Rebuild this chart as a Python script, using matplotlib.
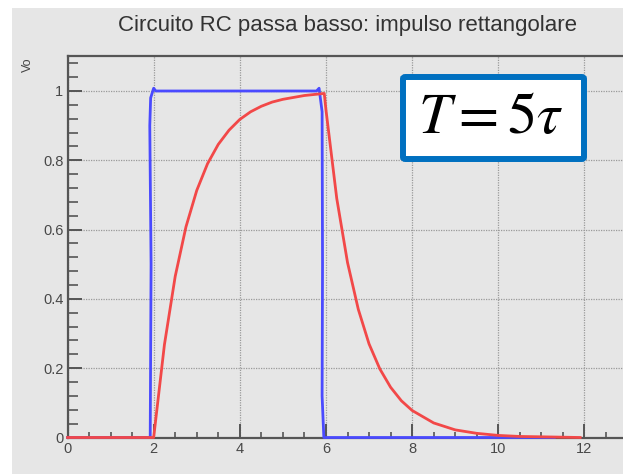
import matplotlib.pyplot as plt
from matplotlib.patches import Rectangle, FancyBboxPatch
from matplotlib.ticker import MultipleLocator

# values
blue_t = [0, 1.92, 1.94, 1.91, 1.93, 2.0, 2.05, 5.78, 5.84, 5.91, 5.92, 5.91, 5.95, 6.1, 11.3]
blue_v = [0, 0, 0.5, 0.9, 0.98, 1.008, 1.0, 1.0, 1.008, 0.94, 0.5, 0.12, 0, 0, 0]

red_t = [0, 2.0, 2.25, 2.5, 2.75, 3.0, 3.25, 3.5, 3.75, 4.0, 4.25, 4.5, 4.75, 5.0, 5.5, 5.96,
         6.0, 6.25, 6.5, 6.75, 7.0, 7.25, 7.5, 7.75, 8.0, 8.5, 9.0, 9.5, 10.0, 10.5, 11.0, 11.9]
red_v = [0, 0, 0.268, 0.465, 0.608, 0.713, 0.79, 0.846, 0.887, 0.918, 0.94, 0.956, 0.968, 0.976, 0.987, 0.993,
         0.945, 0.69, 0.505, 0.37, 0.27, 0.198, 0.145, 0.106, 0.078, 0.042, 0.022, 0.012, 0.006, 0.003, 0.002, 0]

x_ticks = [0, 2, 4, 6, 8, 10, 12]
y_ticks = [0, 0.2, 0.4, 0.6, 0.8, 1.0]
y_ticklabels = ['0', '0.2', '0.4', '0.6', '0.8', '1']

title = "Circuito RC passa basso: impulso rettangolare"
ylabel = "Vo"
box_text = r"$T=5\tau$"

plt.rcParams['font.family'] = ['Liberation Sans', 'DejaVu Sans']
plt.rcParams['mathtext.fontset'] = 'stix'

fig = plt.figure(figsize=(6.23, 4.74), dpi=100)
fig.patch.set_facecolor('white')
fig.patches.append(Rectangle((12 / 623, 0), 1, 1 - 8 / 474, transform=fig.transFigure,
                             facecolor='#e6e6e6', edgecolor='none', zorder=-10))

ax = fig.add_axes([67.5 / 623, 36.5 / 474, 14 * 43.08 / 623, 1.1 * 346.5 / 474])
ax.set_facecolor('none')
ax.set_xlim(0, 14)
ax.set_ylim(0, 1.1)

ax.plot(blue_t, blue_v, color='#4a4aff', lw=2.0, zorder=5, clip_on=False)
ax.plot(red_t, red_v, color='#f24848', lw=2.0, zorder=6, clip_on=False)

ax.set_xticks(x_ticks)
ax.xaxis.set_minor_locator(MultipleLocator(0.5))
ax.set_yticks(y_ticks)
ax.set_yticklabels(y_ticklabels)
ax.yaxis.set_minor_locator(MultipleLocator(0.04))
ax.tick_params(which='both', direction='in', colors='#555555', top=False, right=False)
ax.tick_params(which='major', length=10, width=1.4, labelsize=10.5, pad=3, labelcolor='#484848')
ax.tick_params(axis='y', which='minor', length=7, width=1.2)
ax.tick_params(axis='x', which='minor', length=4, width=1.2)
ax.grid(True, which='major', color='#9a9a9a', ls=(0, (1, 1)), lw=0.9)

for s in ['left', 'bottom', 'top']:
    ax.spines[s].set_color('#555555')
    ax.spines[s].set_linewidth(1.6)
ax.spines['right'].set_visible(False)

fig.text(348 / 623, 1 - 25 / 474, title, ha='center', va='center', fontsize=16, color='#333333')
fig.text(28 / 623, 1 - 65 / 474, ylabel, ha='center', va='center', rotation=90, fontsize=9, color='#444444')

box = FancyBboxPatch((403 / 623, 1 - 159 / 474), 181 / 623, 82 / 474, transform=fig.transFigure,
                     boxstyle='round,pad=0,rounding_size=0.004', facecolor='white',
                     edgecolor='#0070c0', linewidth=4.3, zorder=10)
fig.patches.append(box)
fig.text(491 / 623, 1 - 118 / 474, box_text, ha='center', va='center', fontsize=42, color='black', zorder=11)

fig.savefig('out.png', dpi=100, facecolor='white')
